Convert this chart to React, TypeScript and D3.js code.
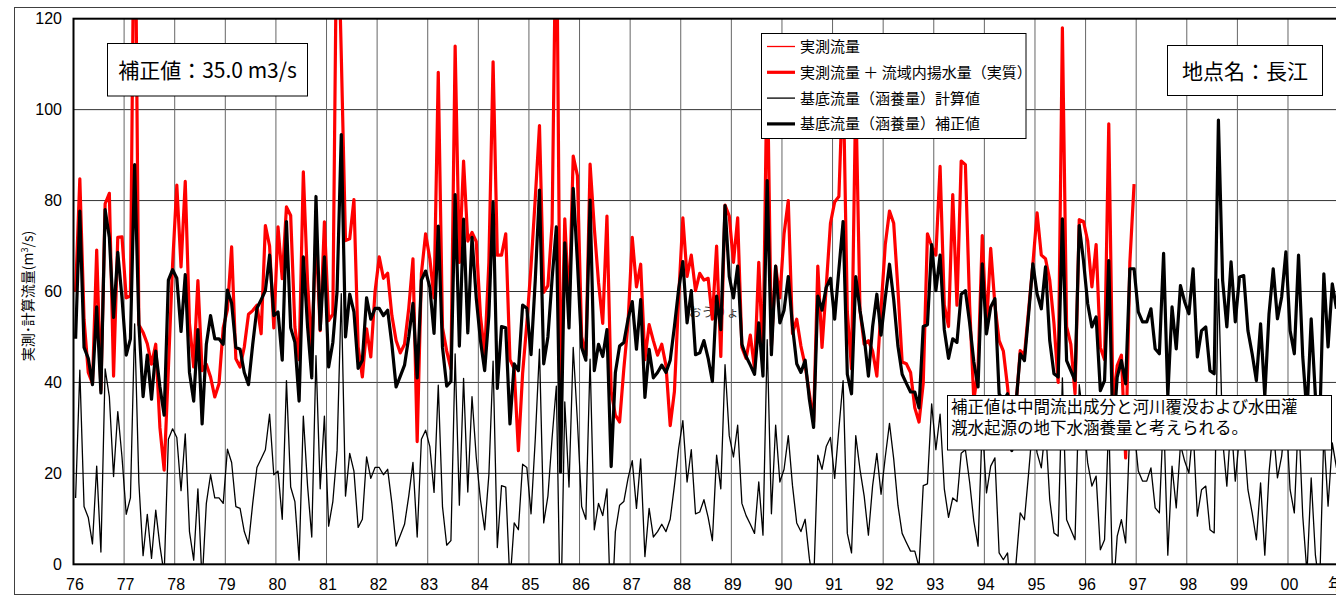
import React from 'react';
import * as d3 from 'd3';

// monthly values, Jan 1976 ..
const YEAR_LABELS = ['76', '77', '78', '79', '80', '81', '82', '83', '84', '85', '86', '87', '88',
  '89', '90', '91', '92', '93', '94', '95', '96', '97', '98', '99', '00'];
const Y_TICKS = [0, 20, 40, 60, 80, 100, 120];
const CORRECTION = 35.0;

// 基底流量(涵養量)補正値
const BASE_CORRECTED = [
  49.6, 77.7, 47.7, 45.3, 39.5, 56.6, 37.7, 78.0, 71.9, 54.3, 68.6, 58.6,
  46.0, 49.6, 87.9, 53.0, 36.9, 46.0, 36.3, 46.9, 39.0, 32.8, 62.5, 64.8,
  62.9, 51.2, 63.7, 42.2, 35.9, 51.6, 30.9, 48.4, 54.7, 49.6, 49.6, 48.4,
  60.3, 57.4, 47.7, 47.3, 42.2, 39.5, 48.4, 56.3, 58.2, 60.2, 68.0, 54.7,
  55.5, 44.9, 75.4, 52.0, 48.8, 35.9, 67.6, 52.3, 41.0, 80.9, 51.6, 67.6,
  43.4, 48.8, 60.0, 94.5, 50.0, 59.4, 55.5, 43.1, 44.9, 58.6, 53.9, 56.3,
  56.3, 54.7, 55.9, 48.4, 39.0, 41.4, 43.8, 50.0, 57.4, 41.0, 62.5, 64.5,
  60.9, 50.8, 74.4, 47.7, 39.2, 40.2, 81.3, 48.0, 75.9, 50.9, 71.9, 58.6,
  49.2, 42.6, 54.7, 79.7, 38.7, 52.3, 52.0, 30.9, 44.1, 42.6, 57.0, 56.3,
  46.1, 62.5, 82.3, 44.1, 50.0, 62.9, 74.2, 20.3, 70.7, 52.0, 82.7, 66.4,
  47.7, 44.9, 80.1, 42.6, 48.4, 45.7, 51.6, 21.5, 42.2, 48.0, 48.8, 53.9,
  57.8, 47.3, 58.2, 36.7, 47.3, 41.0, 42.2, 43.8, 42.2, 44.9, 52.3, 60.5,
  66.6, 53.1, 60.2, 46.1, 46.5, 49.2, 45.3, 40.2, 59.0, 51.6, 78.9, 63.3,
  58.6, 65.6, 48.4, 45.7, 43.8, 41.8, 53.1, 41.4, 84.4, 46.1, 65.6, 53.1,
  55.9, 63.3, 52.3, 44.1, 42.2, 44.9, 36.3, 30.1, 59.0, 55.9, 60.9, 62.9,
  53.9, 64.8, 75.4, 41.8, 37.5, 63.3, 55.9, 50.0, 41.4, 52.3, 59.4, 50.4,
  58.6, 66.0, 58.2, 48.0, 41.8, 39.8, 37.9, 37.9, 34.4, 52.3, 52.7, 70.3,
  60.2, 68.0, 51.6, 45.3, 49.6, 48.8, 59.4, 60.2, 53.1, 44.5, 39.0, 66.1,
  50.7, 56.6, 58.4, 37.5, 36.0, 37.5, 25.0, 35.2, 46.3, 44.8, 55.1, 66.1,
  59.5, 56.2, 65.4, 49.2, 41.9, 41.2, 76.0, 44.8, 42.6, 40.4, 74.5, 66.8,
  57.3, 52.2, 54.4, 38.2, 40.4, 66.8, 28.0, 41.2, 44.8, 39.7, 65.0, 65.0,
  55.5, 53.3, 53.3, 56.2, 47.4, 46.3, 68.4, 37.0, 56.6, 47.4, 61.3, 57.7,
  55.1, 65.0, 45.6, 51.4, 52.2, 42.6, 41.9, 97.7, 62.4, 52.2, 66.5, 53.3,
  63.2, 63.5, 51.4, 46.3, 40.4, 52.9, 37.0, 55.1, 65.0, 54.0, 58.8, 68.7,
  51.4, 46.3, 68.0, 45.6, 33.0, 54.0, 37.0, 30.0, 63.9, 47.8, 61.7, 56.2
];

// 実測流量 + 流域内揚水量(実質), ends Dec 1996
const OBSERVED_PLUS_PUMPING = [
  60.0, 84.8, 53.9, 42.2, 39.8, 69.1, 38.3, 79.3, 81.6, 41.4, 71.9, 72.0,
  58.6, 59.0, 160.0, 52.7, 51.0, 48.5, 44.0, 48.4, 30.0, 20.7, 43.0, 66.0,
  83.4, 65.4, 84.2, 53.0, 43.4, 62.4, 42.6, 44.0, 41.2, 36.8, 39.7, 52.0,
  56.0, 69.8, 45.2, 43.4, 47.8, 55.0, 55.8, 57.0, 50.7, 74.5, 70.0, 52.0,
  74.2, 62.8, 78.6, 76.7, 52.2, 45.0, 86.3, 62.0, 47.0, 73.0, 51.4, 75.3,
  53.6, 55.0, 150.0, 112.0, 71.2, 71.6, 80.2, 47.8, 41.2, 51.8, 45.6, 59.9,
  67.6, 62.9, 64.0, 54.7, 49.2, 46.5, 48.4, 56.3, 67.2, 27.0, 64.0, 72.7,
  67.2, 58.6, 108.2, 52.0, 46.9, 43.0, 114.0, 66.4, 88.7, 71.1, 73.0, 71.0,
  54.7, 46.1, 66.4, 110.5, 68.0, 68.0, 72.7, 45.0, 43.0, 25.0, 42.0, 53.0,
  65.6, 80.5, 96.5, 59.8, 61.3, 75.0, 150.0, 35.0, 76.0, 56.0, 89.8, 85.5,
  50.0, 46.0, 88.0, 74.0, 62.0, 53.0, 76.6, 38.0, 32.8, 31.3, 43.0, 53.0,
  71.9, 61.0, 66.0, 45.0, 52.7, 49.2, 46.0, 48.4, 43.7, 30.5, 38.0, 58.6,
  76.2, 63.3, 68.0, 60.2, 64.0, 62.5, 62.9, 53.9, 70.0, 45.7, 79.0, 76.6,
  66.4, 76.2, 47.7, 45.3, 50.4, 43.0, 66.4, 45.0, 112.0, 48.0, 65.6, 58.6,
  72.7, 80.0, 50.8, 53.9, 48.0, 43.7, 37.5, 31.3, 65.6, 47.7, 61.0, 75.0,
  79.7, 80.9, 108.0, 55.5, 43.0, 104.0, 55.9, 48.4, 49.2, 46.9, 41.4, 56.3,
  70.3, 77.7, 75.0, 60.5, 44.5, 44.1, 42.2, 34.4, 31.3, 39.8, 72.7, 70.0,
  68.0, 87.5, 57.0, 52.3, 81.3, 57.0, 88.7, 87.9, 57.0, 36.0, 43.0, 72.3,
  52.0, 69.5, 57.0, 49.2, 46.9, 39.0, 29.0, 35.0, 47.0, 46.0, 56.0, 66.0,
  77.3, 68.0, 67.2, 62.5, 53.0, 40.0, 118.0, 52.3, 48.4, 37.5, 75.8, 75.4,
  71.1, 61.0, 70.3, 47.7, 45.0, 96.9, 35.0, 43.7, 46.0, 23.4, 66.4, 83.6
];
// thin red line lies under the thick one everywhere on this chart
const OBSERVED = OBSERVED_PLUS_PUMPING;
// 計算値 = 補正値 - 補正量
const BASE_CALC = BASE_CORRECTED.map(v => v - CORRECTION);

const LEGEND = [
  { label: '実測流量', color: '#ff0000', width: 1.3 },
  { label: '実測流量 ＋ 流域内揚水量（実質）', color: '#ff0000', width: 3.2 },
  { label: '基底流量（涵養量）計算値', color: '#000', width: 1.3 },
  { label: '基底流量（涵養量）補正値', color: '#000', width: 3.2 }
];

const NOTE = ['補正値は中間流出成分と河川覆没および水田灌', '漑水起源の地下水涵養量と考えられる。'];

const JP = '"Noto Sans CJK JP", "Noto Sans", sans-serif';
const NUM = '"Liberation Sans Narrow", "Liberation Sans", Arial, sans-serif';

class BaseflowChart extends React.Component {
  svgRef = React.createRef<SVGSVGElement>();

  componentDidMount() {
    this.drawChart();
  }

  drawChart() {
    const width = 1336, height = 596;
    const left = 73.5, top = 18.7, bottom = 564.3, right = 1338.6;

    const x = d3.scaleLinear().domain([0, 300]).range([left, right]);
    const y = d3.scaleLinear().domain([0, 120]).range([bottom, top]);

    const svg = d3.select(this.svgRef.current);
    svg.selectAll('*').remove();

    svg.append('rect').attr('width', width).attr('height', height).attr('fill', '#fff');
    // outer chart frame
    svg.append('rect')
      .attr('x', 14.5).attr('y', 7.5).attr('width', 1400).attr('height', 587)
      .attr('fill', 'none').attr('stroke', '#404040');

    svg.append('clipPath').attr('id', 'plotclip')
      .append('rect').attr('x', left).attr('y', top)
      .attr('width', right - left).attr('height', bottom - top);

    // grid
    svg.append('g').selectAll('line')
      .data(Y_TICKS.slice(1, -1))
      .enter().append('line')
      .attr('x1', left).attr('x2', right)
      .attr('y1', d => y(d)).attr('y2', d => y(d))
      .attr('stroke', '#333').attr('stroke-width', 1);
    svg.append('g').selectAll('line')
      .data(d3.range(1, YEAR_LABELS.length))
      .enter().append('line')
      .attr('x1', d => x(d * 12)).attr('x2', d => x(d * 12))
      .attr('y1', top).attr('y2', bottom)
      .attr('stroke', '#666').attr('stroke-width', 1);

    // stray text left in the original sheet
    svg.append('text')
      .attr('x', 689).attr('y', 317)
      .attr('font-family', JP).attr('font-size', 12.5).attr('fill', '#333')
      .text('おうりょ');

    const line = d3.line<number>()
      .x((d, i) => x(i + 0.5))
      .y(d => y(d));

    const plot = svg.append('g').attr('clip-path', 'url(#plotclip)');
    const series = [
      { data: BASE_CALC, color: '#000', width: 1.3 },
      { data: OBSERVED_PLUS_PUMPING, color: '#ff0000', width: 3.2 },
      { data: OBSERVED, color: '#ff0000', width: 1.3 },
      { data: BASE_CORRECTED, color: '#000', width: 3.2 }
    ];
    series.forEach(s => {
      plot.append('path')
        .attr('d', line(s.data))
        .attr('fill', 'none')
        .attr('stroke', s.color)
        .attr('stroke-width', s.width)
        .attr('stroke-linejoin', 'round');
    });

    // plot border
    svg.append('rect')
      .attr('x', left).attr('y', top).attr('width', right - left).attr('height', bottom - top)
      .attr('fill', 'none').attr('stroke', '#000').attr('stroke-width', 2);

    // tick labels
    svg.append('g').selectAll('text')
      .data(Y_TICKS)
      .enter().append('text')
      .attr('x', 62).attr('y', d => y(d) + 5.5)
      .attr('text-anchor', 'end')
      .attr('font-family', NUM).attr('font-size', 16)
      .text(d => d);
    svg.append('g').selectAll('text')
      .data(YEAR_LABELS)
      .enter().append('text')
      .attr('x', (d, i) => x(i * 12) + 1.5).attr('y', 590)
      .attr('text-anchor', 'middle')
      .attr('font-family', NUM).attr('font-size', 16)
      .text(d => d);
    svg.append('text')
      .attr('x', 1328).attr('y', 590)
      .attr('font-family', JP).attr('font-size', 16)
      .text('年');

    // y axis title
    const yt = svg.append('text')
      .attr('transform', 'translate(33,296) rotate(-90)')
      .attr('text-anchor', 'middle')
      .attr('font-family', JP).attr('font-size', 14);
    yt.append('tspan').text('実測･計算流量(m');
    yt.append('tspan').attr('font-size', 9).attr('dy', -5).text('3');
    yt.append('tspan').attr('dy', 5).text('/s)');

    // text boxes
    const box = (bx: number, by: number, bw: number, bh: number) =>
      svg.append('rect').attr('x', bx).attr('y', by).attr('width', bw).attr('height', bh)
        .attr('fill', '#fff').attr('stroke', '#000').attr('stroke-width', 1);

    box(107.5, 43.5, 200, 52.5);
    svg.append('text')
      .attr('x', 207.5).attr('y', 78).attr('text-anchor', 'middle')
      .attr('font-family', JP).attr('font-size', 21)
      .text('補正値：35.0 m3/s');

    box(1167.5, 45.5, 155, 50);
    svg.append('text')
      .attr('x', 1245).attr('y', 78.5).attr('text-anchor', 'middle')
      .attr('font-family', JP).attr('font-size', 21)
      .text('地点名：長江');

    // legend
    box(761.5, 33.5, 264.5, 105);
    const lg = svg.append('g').selectAll('g')
      .data(LEGEND)
      .enter().append('g')
      .attr('transform', (d, i) => 'translate(0,' + (46.5 + i * 25.8) + ')');
    lg.append('line')
      .attr('x1', 767).attr('x2', 795).attr('y1', 0).attr('y2', 0)
      .attr('stroke', d => d.color).attr('stroke-width', d => d.width);
    lg.append('text')
      .attr('x', 800).attr('y', 5.5)
      .attr('font-family', JP).attr('font-size', 15)
      .text(d => d.label);

    // note, one text block with two lines
    box(947.5, 395.5, 384, 54.5);
    svg.append('text')
      .attr('font-family', JP).attr('font-size', 16.5)
      .selectAll('tspan')
      .data(NOTE)
      .enter().append('tspan')
      .attr('x', 951).attr('y', (d, i) => 413 + i * 20.5)
      .text(d => d);
  }

  render() {
    return <svg ref={this.svgRef} width={1336} height={596} style={{ display: 'block' }} />;
  }
}

export default function App() {
  return (
    <div>
      <style>{'body{margin:0;overflow:hidden}'}</style>
      <BaseflowChart />
    </div>
  );
}
